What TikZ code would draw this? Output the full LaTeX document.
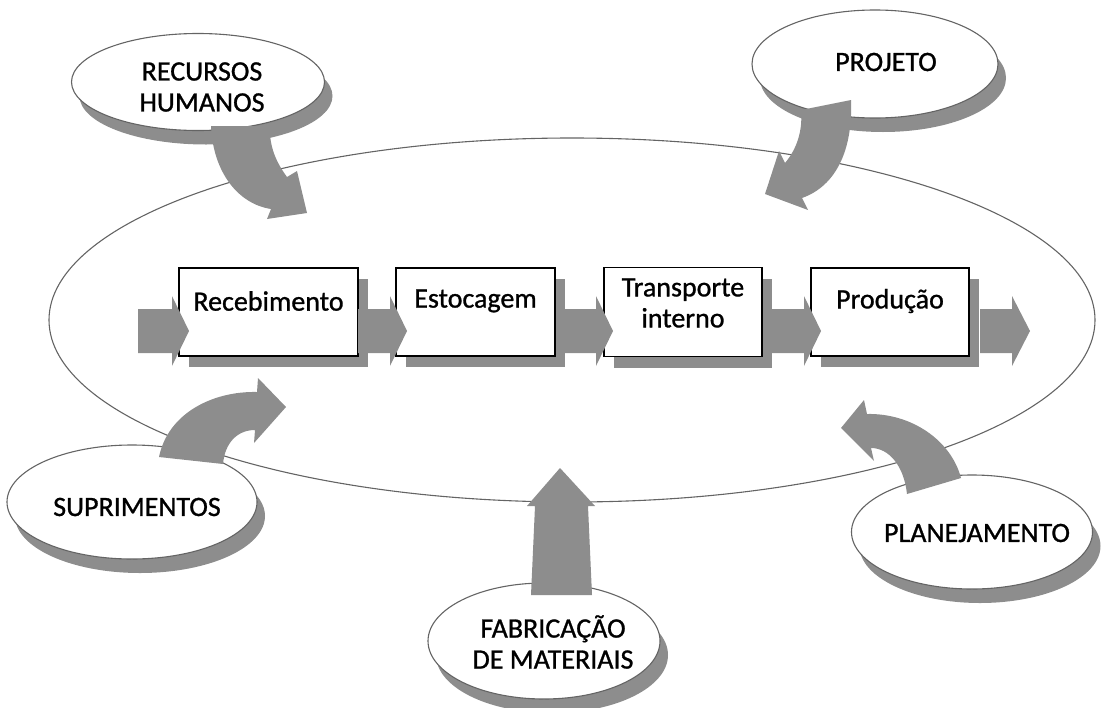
\documentclass[tikz,border=0pt]{standalone}
\usepackage{fontspec}
\setmainfont[FakeBold=1]{Carlito}
\usetikzlibrary{shapes.geometric,shadows}
\definecolor{ag}{RGB}{141,141,141}
\definecolor{ol}{RGB}{100,100,100}
\begin{document}
\begin{tikzpicture}[x=1pt,y=-1pt,
  blob/.style={ellipse,draw=ol,line width=1.1pt,fill=white,inner sep=0pt,
    drop shadow={shadow xshift=8pt,shadow yshift=-14pt,fill=ag,opacity=1}},
  lbl/.style={align=center,font=\fontsize{28}{31}\selectfont,text=black},
  stepbox/.style={draw=black,line width=1.2pt,fill=white,inner sep=0pt,
    drop shadow={shadow xshift=10pt,shadow yshift=-11pt,fill=ag,opacity=1}},
  garrow/.style={fill=ag,draw=none}]
\useasboundingbox (0,0) rectangle (1106,707);
% big ellipse
\node[ellipse,draw=ol,line width=1.1pt,minimum width=1046pt,minimum height=364pt,inner sep=0pt] (big) at (572,320) {};
% surrounding ellipses
\node[blob,minimum width=253pt,minimum height=97pt] (rh) at (198,82) {};
\node[lbl] (rht) at (202,87) {RECURSOS\\HUMANOS};
\node[blob,minimum width=246pt,minimum height=108pt] (pj) at (875,64) {};
\node[lbl] (pjt) at (886,62) {PROJETO};
\node[blob,minimum width=250pt,minimum height=114pt] (su) at (132,502) {};
\node[lbl] (sut) at (137,507) {SUPRIMENTOS};
\node[blob,minimum width=241pt,minimum height=114pt] (pl) at (972,532) {};
\node[lbl] (plt) at (977,533) {PLANEJAMENTO};
\node[blob,minimum width=232pt,minimum height=116pt] (fm) at (544,641) {};
\node[lbl] (fmt) at (553,642) {FABRICAÇÃO\\DE MATERIAIS};
% curved arrows
\fill[garrow] (211,126) .. controls (213,172) and (238,204) .. (271,209)
  -- (267,219) -- (307,213) -- (297,171) -- (287,177)
  .. controls (276,162) and (269,146) .. (270,126) -- cycle;
\fill[garrow] (851,100) .. controls (853,150) and (836,186) .. (802,198)
  -- (808,210) -- (765,194) -- (779,151) -- (785,163)
  .. controls (796,150) and (803,132) .. (801,110) -- cycle;
\fill[garrow] (159,457) .. controls (168,413) and (213,391) .. (257,392)
  -- (258,378) -- (286,407) -- (254,443) -- (255,430)
  .. controls (238,430) and (225,442) .. (223,464) -- cycle;
\fill[garrow] (961,478) .. controls (951,440) and (911,413) .. (867,414)
  -- (864,400) -- (841,428) -- (874,461) -- (871,448)
  .. controls (889,448) and (904,466) .. (907,494) -- cycle;
\fill[garrow] (531,595) -- (535,506) -- (527,506) -- (560,468) -- (595,506)
  -- (588,506) -- (592,595) -- cycle;
% process boxes
\node[stepbox,minimum width=179pt,minimum height=88pt] (rec) at (268.5,312) {};
\node[stepbox,minimum width=159pt,minimum height=88pt] (est) at (475.5,312) {};
\node[stepbox,minimum width=158pt,minimum height=89pt] (tra) at (683,312) {};
\node[stepbox,minimum width=158pt,minimum height=88pt] (pro) at (890,312) {};
\node[lbl] at (268.5,301) {Recebimento};
\node[lbl] at (475.5,301) {Estocagem};
\node[lbl] at (683,303) {Transporte\\interno};
\node[lbl] at (890,301) {Produção};
% straight flow arrows
\newcommand{\harr}[3]{\fill[garrow] (#1,309) -- (#2,309) -- (#2,296) -- (#3,331) -- (#2,366) -- (#2,353) -- (#1,353) -- cycle;}
\harr{138}{172}{189}
\harr{358}{390}{407}
\harr{565}{596}{613}
\harr{770}{804}{821}
\harr{980}{1012}{1030}
\end{tikzpicture}
\end{document}
